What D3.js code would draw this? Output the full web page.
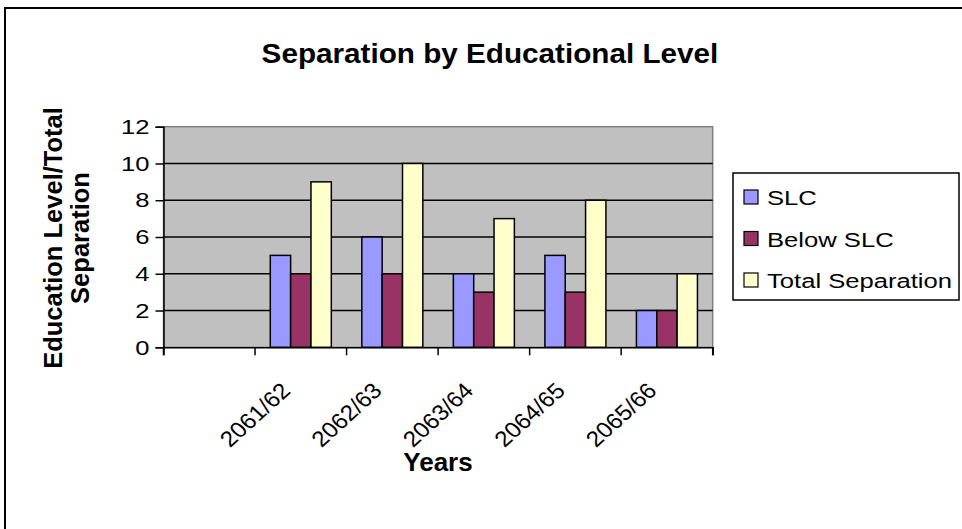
<!DOCTYPE html>
<html>
<head>
<meta charset="utf-8">
<script src="https://cdn.jsdelivr.net/npm/d3@7"></script>
<style>
  body { margin: 0; background: #fff; }
  text { font-family: "Liberation Sans", Arial, sans-serif; }
</style>
</head>
<body>
<script>
// data
var years = ["", "2061/62", "2062/63", "2063/64", "2064/65", "2065/66"];
var series = ["SLC", "Below SLC", "Total Separation"];
var slc = [null, 5, 6, 4, 5, 2];
var belowSlc = [null, 4, 4, 3, 3, 2];
var totalSep = [null, 9, 10, 7, 8, 4];
var yTicks = [0, 2, 4, 6, 8, 10, 12];
var colors = ["#9999FF", "#993366", "#FFFFCC"];

var width = 962, height = 529;
var plot = { left: 163.5, right: 712.7, top: 126.7, bottom: 347.3 };
var stretch = 1.22; // the source text is a bit wide

var svg = d3.select("body").append("svg")
    .attr("width", width)
    .attr("height", height);

// chart border (only left/top show in the frame)
svg.append("rect")
    .attr("x", 5).attr("y", 8)
    .attr("width", 1000).attr("height", 600)
    .attr("fill", "none").attr("stroke", "#000").attr("stroke-width", 2);

svg.append("text")
    .attr("x", 490).attr("y", 63)
    .attr("text-anchor", "middle")
    .attr("font-size", 28).attr("font-weight", "bold")
    .attr("transform", "translate(490,0) scale(1.06,1) translate(-490,0)")
    .text("Separation by Educational Level");

var x = d3.scaleBand()
    .domain(years)
    .range([plot.left, plot.right]);

var bw = x.bandwidth() / (series.length + 1.5);
var xs = d3.scaleBand()
    .domain(series)
    .range([(x.bandwidth() - bw * 3) / 2, (x.bandwidth() + bw * 3) / 2]);

var y = d3.scaleLinear()
    .domain([0, 12])
    .range([plot.bottom, plot.top]);

// plot area
svg.append("rect")
    .attr("x", plot.left).attr("y", plot.top)
    .attr("width", plot.right - plot.left).attr("height", plot.bottom - plot.top)
    .attr("fill", "#C0C0C0").attr("stroke", "#808080").attr("stroke-width", 1.5);

svg.append("g").selectAll("line")
    .data(yTicks.filter(function(d) { return d > 0 && d < 12; }))
    .enter().append("line")
    .attr("x1", plot.left).attr("x2", plot.right)
    .attr("y1", function(d) { return y(d); })
    .attr("y2", function(d) { return y(d); })
    .attr("stroke", "#000").attr("stroke-width", 1.5);

// bars
var rows = years.map(function(c, i) {
    return { year: c, values: [slc[i], belowSlc[i], totalSep[i]] };
});

var groups = svg.append("g").selectAll("g")
    .data(rows)
    .enter().append("g")
    .attr("transform", function(d) { return "translate(" + x(d.year) + ",0)"; });

groups.selectAll("rect")
    .data(function(d) {
        return d.values.map(function(v, j) { return { s: series[j], v: v, j: j }; })
            .filter(function(e) { return e.v != null; });
    })
    .enter().append("rect")
    .attr("x", function(d) { return xs(d.s); })
    .attr("width", bw)
    .attr("y", function(d) { return y(d.v); })
    .attr("height", function(d) { return y(0) - y(d.v); })
    .attr("fill", function(d) { return colors[d.j]; })
    .attr("stroke", "#000").attr("stroke-width", 1.5);

// axes
var yAxis = d3.axisLeft(y).tickValues(yTicks).tickSize(8);
var gy = svg.append("g")
    .attr("transform", "translate(" + plot.left + ",0)")
    .call(yAxis);
gy.attr("font-size", null).attr("font-family", null);
gy.selectAll("text")
    .attr("x", 0)
    .attr("transform", "translate(-14,0) scale(" + stretch + ",1)")
    .attr("font-size", 21).attr("fill", "#000");
gy.select(".domain").attr("stroke", "#000").attr("stroke-width", 1.5);
gy.selectAll(".tick line").attr("stroke", "#000").attr("stroke-width", 1.5);

var xAxis = d3.axisBottom(x).tickSize(8).tickFormat("");
var gx = svg.append("g")
    .attr("transform", "translate(0," + plot.bottom + ")")
    .call(xAxis);
gx.select(".domain").attr("stroke", "#000").attr("stroke-width", 1.5);
// ticks sit on band edges
gx.selectAll(".tick").remove();
gx.selectAll("line.edge")
    .data(years.concat(["end"]))
    .enter().append("line")
    .attr("x1", function(d, i) { return i < years.length ? x(d) : plot.right; })
    .attr("x2", function(d, i) { return i < years.length ? x(d) : plot.right; })
    .attr("y1", 0).attr("y2", 8)
    .attr("stroke", "#000").attr("stroke-width", 1.5);

svg.append("g").selectAll("text")
    .data(years.filter(function(d) { return d !== ""; }))
    .enter().append("text")
    .attr("transform", function(d) {
        return "translate(" + (x(d) + x.bandwidth() / 2 - 9) + ",392) scale(1.1,1) rotate(-45)";
    })
    .attr("text-anchor", "end")
    .attr("font-size", 22)
    .text(function(d) { return d; });

// axis titles
svg.append("text")
    .attr("x", 438).attr("y", 471)
    .attr("text-anchor", "middle")
    .attr("font-size", 26).attr("font-weight", "bold")
    .text("Years");

var yTitle = svg.append("text")
    .attr("transform", "translate(62,238) rotate(-90)")
    .attr("text-anchor", "middle")
    .attr("font-size", 25.5).attr("font-weight", "bold");
yTitle.append("tspan").attr("x", 0).attr("y", 0).text("Education Level/Total");
yTitle.append("tspan").attr("x", 0).attr("y", 27).text("Separation");

// legend
var legend = svg.append("g");
legend.append("rect")
    .attr("x", 733).attr("y", 173)
    .attr("width", 226).attr("height", 127)
    .attr("fill", "#fff").attr("stroke", "#000").attr("stroke-width", 1.5);

var item = legend.selectAll("g.item")
    .data(series)
    .enter().append("g")
    .attr("transform", function(d, i) { return "translate(744," + (197 + i * 41.5) + ")"; });
item.append("rect")
    .attr("x", 0).attr("y", -7)
    .attr("width", 14).attr("height", 14)
    .attr("fill", function(d, i) { return colors[i]; })
    .attr("stroke", "#000").attr("stroke-width", 1.2);
item.append("text")
    .attr("transform", "translate(23,8) scale(" + stretch + ",1)")
    .attr("font-size", 21)
    .text(function(d) { return d; });
</script>
</body>
</html>
